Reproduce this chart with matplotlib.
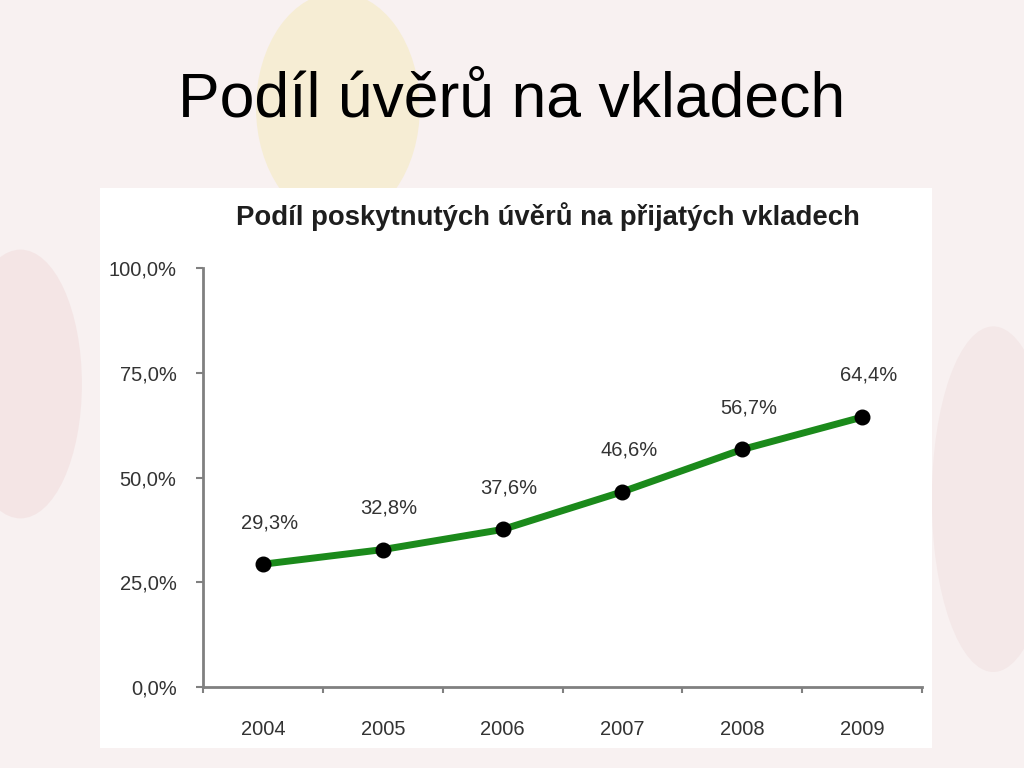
import matplotlib.pyplot as plt
from matplotlib.patches import Rectangle, Ellipse
from matplotlib.ticker import FixedLocator

# data
years = ["2004", "2005", "2006", "2007", "2008", "2009"]
share = [29.3, 32.8, 37.6, 46.6, 56.7, 64.4]
labels = ["29,3%", "32,8%", "37,6%", "46,6%", "56,7%", "64,4%"]
yticks = [0, 25, 50, 75, 100]
ytick_labels = ["0,0%", "25,0%", "50,0%", "75,0%", "100,0%"]

plt.rcParams['font.family'] = ['Liberation Sans', 'DejaVu Sans']

fig = plt.figure(figsize=(10.24, 7.68), dpi=100)
fig.patch.set_facecolor('#f8f1f1')

# faint background decoration of the slide
fig.patches.append(Ellipse((0.33, 0.86), 0.16, 0.30, transform=fig.transFigure,
                           facecolor='#f6eccd', edgecolor='none', alpha=0.8, zorder=0))
fig.patches.append(Ellipse((0.02, 0.5), 0.12, 0.35, transform=fig.transFigure,
                           facecolor='#f2dede', edgecolor='none', alpha=0.6, zorder=0))
fig.patches.append(Ellipse((0.97, 0.35), 0.12, 0.45, transform=fig.transFigure,
                           facecolor='#f2e2e2', edgecolor='none', alpha=0.6, zorder=0))

# white chart box
fig.patches.append(Rectangle((100 / 1024, 1 - 748 / 768), 832 / 1024, 560 / 768,
                             transform=fig.transFigure, facecolor='white',
                             edgecolor='none', zorder=1))

# slide title
fig.text(0.5, 1 - 100 / 768, "Podíl úvěrů na vkladech", ha='center', va='center',
         fontsize=45, color='black')

# chart title
fig.text(548 / 1024, 1 - 217 / 768, "Podíl poskytnutých úvěrů na přijatých vkladech",
         ha='center', va='center', fontsize=19.8, fontweight='bold', color='#1e1e1e')

ax = fig.add_axes([203 / 1024, 1 - 687 / 768, 719 / 1024, (687 - 268) / 768])
ax.set_facecolor('none')
ax.set_zorder(2)

x = list(range(len(years)))
ax.plot(x, share, color='#1b8a1b', linewidth=5, solid_capstyle='round', zorder=3)
ax.plot(x, share, 'o', color='black', markersize=10.5, zorder=4)

for xi, yi, lab in zip(x, share, labels):
    ax.annotate(lab, (xi, yi), xytext=(4.5, 30), textcoords='offset points',
                ha='center', va='center', fontsize=14.5, color='#333333')

ax.set_xlim(-0.5, len(years) - 0.5)
ax.set_ylim(0, 100)

ax.set_yticks(yticks)
ax.set_yticklabels(ytick_labels)
ax.set_xticks(x)
ax.set_xticklabels(years)
ax.xaxis.set_minor_locator(FixedLocator([i - 0.5 for i in range(len(years) + 1)]))

ax.tick_params(axis='y', direction='out', length=5, width=1.5, color='#808080',
               labelsize=14.5, labelcolor='#333333', pad=14)
ax.tick_params(axis='x', which='major', length=0, labelsize=14.5, labelcolor='#333333', pad=24)
ax.tick_params(axis='x', which='minor', direction='out', length=4, width=1.5, color='#808080')

for side in ['top', 'right']:
    ax.spines[side].set_visible(False)
for side in ['left', 'bottom']:
    ax.spines[side].set_color('#808080')
    ax.spines[side].set_linewidth(2)

fig.savefig('out.png', dpi=100, facecolor=fig.get_facecolor())
